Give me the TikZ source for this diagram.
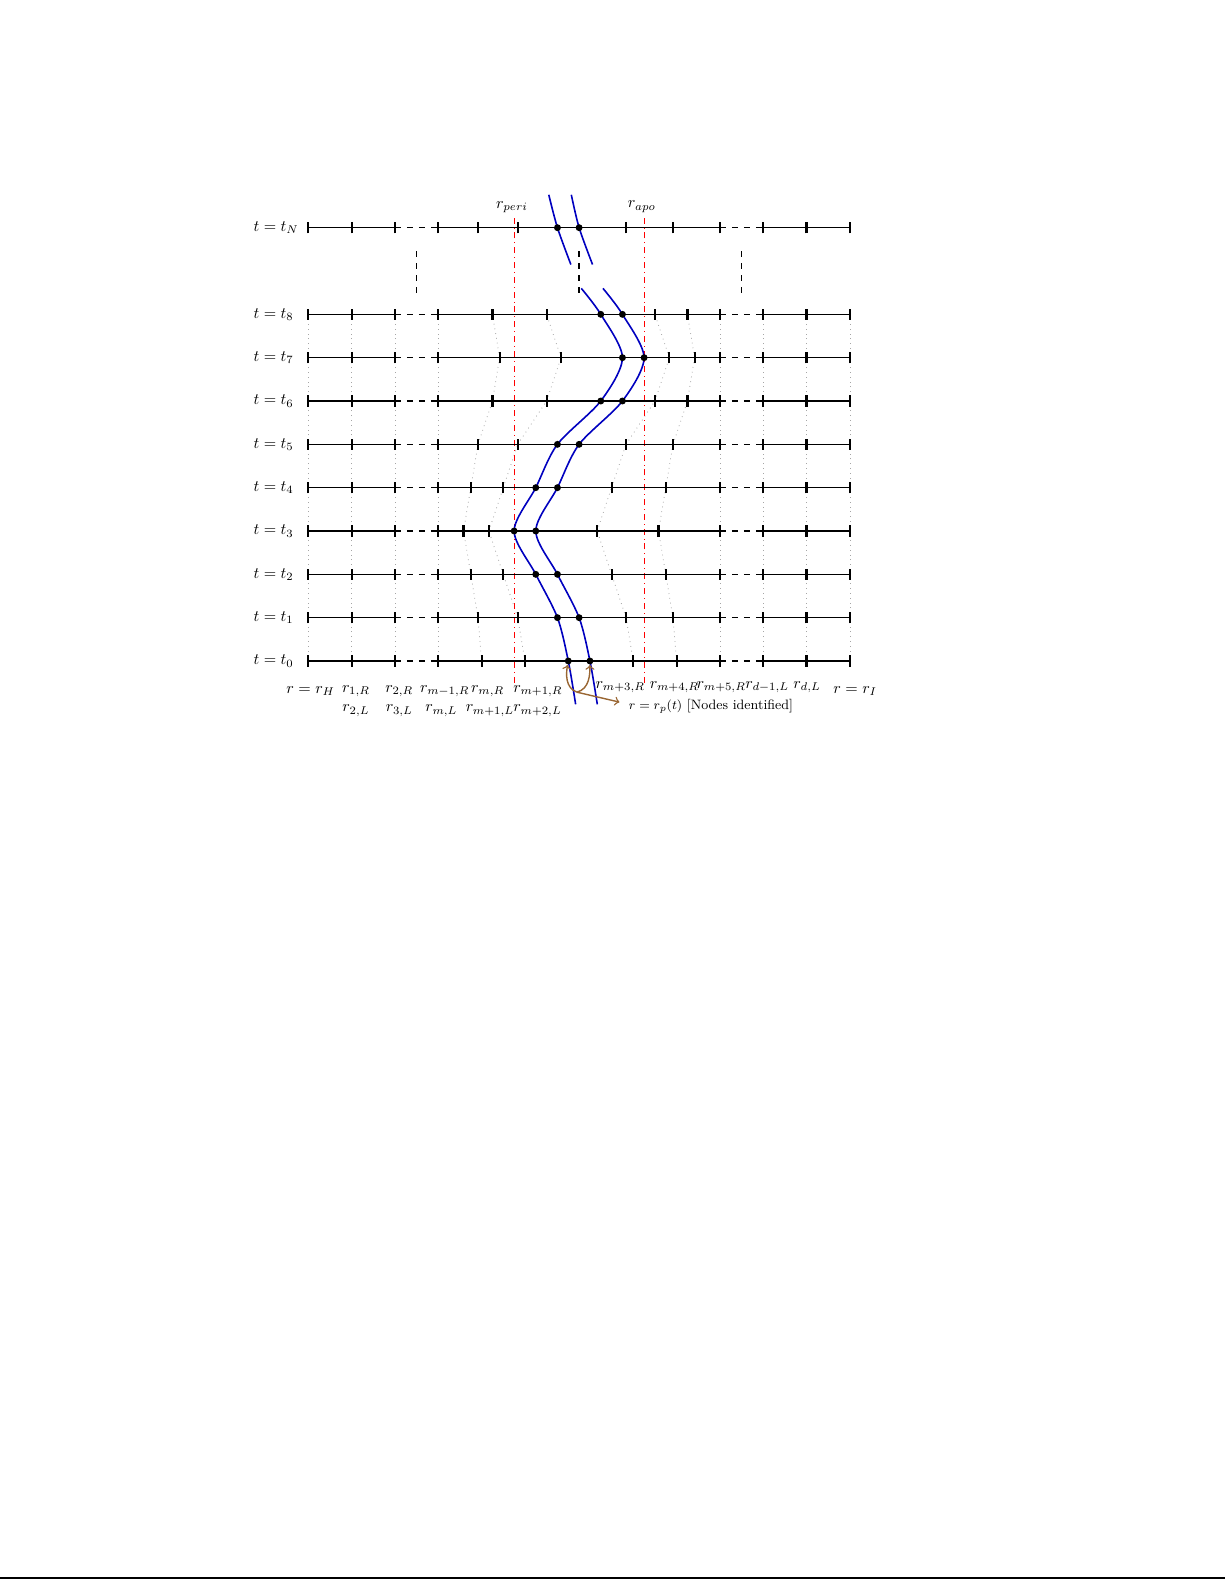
\documentclass[tikz,border=0pt]{standalone}
\usepackage{tikz}
\usetikzlibrary{calc}
\tikzset{
	gridline/.style={line width=0.7pt, color=black},
	gridtick/.style={line width=1.1pt, color=black},
	meshline/.style={line width=0.4pt, color=black!35, dotted},
	orbit/.style={line width=0.8pt, color=blue!75!black},
	radline/.style={line width=0.4pt, color=red, dash dot},
	pointer/.style={->, line width=0.7pt, color=brown!80!black, shorten >=2pt},
}

\begin{document}
\begin{tikzpicture}[x=0.761cm, y=0.761cm, every node/.style={scale=0.8}]
	%%%%% START %%%%%
	\useasboundingbox (-7.115,-21.325) rectangle (21.156,15.255);
	
	% moving mesh
	\foreach \x in {0,1,2,3,9.5,10.5,11.5,12.5}
		\draw[meshline] (\x,0) -- (\x,8);
	\foreach \ty/\rp [remember=\ty as \lastt (initially 0), remember=\rp as \lastp (initially 6)] in {1/5.75, 2/5.25, 3/4.75, 4/5.25, 5/5.75, 6/6.75, 7/7.25, 8/6.75}
		\foreach \k in {1,2} {
			\draw[meshline] ({3+\k*(\lastp-3)/3},\lastt) -- ({3+\k*(\rp-3)/3},\ty);
			\draw[meshline] ({\lastp+0.5+\k*(9-\lastp)/3},\lastt) -- ({\rp+0.5+\k*(9-\rp)/3},\ty);
		}
	
	\draw[radline] (4.75,-0.5) -- (4.75,10.25);
	\draw[radline] (7.75,-0.5) -- (7.75,10.25);
	\node (peri) at (4.7,10.47) {$r_{peri}$};
	\node (apo) at (7.7,10.49) {$r_{apo}$};
	
	% time slices
	\foreach \ty/\rp/\lab in {0/6/0, 1/5.75/1, 2/5.25/2, 3/4.75/3, 4/5.25/4, 5/5.75/5, 6/6.75/6, 7/7.25/7, 8/6.75/8, 10/5.75/N} {
		\pgfmathsetmacro\rq{\rp+0.5}
		\pgfmathsetmacro\ra{3+(\rp-3)/3}
		\pgfmathsetmacro\rb{3+2*(\rp-3)/3}
		\pgfmathsetmacro\rc{\rq+(9.5-\rq)/3}
		\pgfmathsetmacro\rd{\rq+2*(9.5-\rq)/3}
		\node[anchor=west, inner sep=0pt] (t\lab) at (-1.27,\ty) {$t = t_{\lab}$};
		\draw[gridline] (0,\ty) -- (2,\ty);
		\draw[gridline, dashed] (2,\ty) -- (3,\ty);
		\draw[gridline] (3,\ty) -- (9.5,\ty);
		\draw[gridline, dashed] (9.5,\ty) -- (10.5,\ty);
		\draw[gridline] (10.5,\ty) -- (12.5,\ty);
		\foreach \x in {0,1,2,3,\ra,\rb,\rc,\rd,9.5,10.5,11.5,12.5}
			\draw[gridtick] (\x,{\ty-0.13}) -- (\x,{\ty+0.13});
		\coordinate (L\lab) at (\rp,\ty);
		\coordinate (R\lab) at (\rq,\ty);
	}
	
	\foreach \x in {2.5,6.25,10}
		\draw[gridline, dashed] (\x,8.5) -- (\x,9.5);
	
	% particle
	\coordinate (Lbot) at (6.17,-1);
	\coordinate (Rbot) at (6.67,-1);
	\coordinate (Lend) at (6.3,8.6);
	\coordinate (Rend) at (6.8,8.6);
	\coordinate (Ltop) at (5.55,10.76);
	\coordinate (Rtop) at (6.07,10.76);
	\coordinate (Lcut) at (6.06,9.15);
	\coordinate (Rcut) at (6.56,9.15);
	\draw[orbit] plot[smooth] coordinates {(Lbot) (L0) (L1) (L2) (L3) (L4) (L5) (L6) (L7) (L8) (Lend)};
	\draw[orbit] plot[smooth] coordinates {(Rbot) (R0) (R1) (R2) (R3) (R4) (R5) (R6) (R7) (R8) (Rend)};
	\draw[orbit] plot[smooth] coordinates {(Ltop) (LN) (Lcut)};
	\draw[orbit] plot[smooth] coordinates {(Rtop) (RN) (Rcut)};
	\foreach \lab in {0,1,2,3,4,5,6,7,8,N} {
		\fill (L\lab) circle (0.08);
		\fill (R\lab) circle (0.08);
	}
	
	% grid labels
	\node (rH) at (0.05,-0.7) {$r = r_H$};
	\foreach \x/\txt [count=\i] in {1.1/{r_{1,R}}, 2.1/{r_{2,R}}, 3.15/{r_{m-1,R}}, 4.14/{r_{m,R}}, 5.3/{r_{m+1,R}}}
		\node (rR\i) at (\x,-0.7) {$\txt$};
	\foreach \x/\txt [count=\i] in {7.2/{r_{m+3,R}}, 8.45/{r_{m+4,R}}, 9.53/{r_{m+5,R}}, 10.59/{r_{d-1,L}}, 11.51/{r_{d,L}}}
		\node (rS\i) at (\x,-0.6) {$\txt$};
	\node (rI) at (12.62,-0.7) {$r = r_I$};
	\foreach \x/\txt [count=\i] in {1.1/{r_{2,L}}, 2.1/{r_{3,L}}, 3.07/{r_{m,L}}, 4.19/{r_{m+1,L}}, 5.29/{r_{m+2,L}}}
		\node (rL\i) at (\x,-1.15) {$\txt$};
	
	\coordinate (S) at (6.2,-0.72);
	\node[anchor=west, font=\fontsize{8.5}{10}\selectfont] (pname) at (7.27,-1.05) {$r = r_p(t)$ [Nodes identified]};
	\draw[pointer] (S) to[out=160, in=-100] (L0);
	\draw[pointer] (S) to[out=15, in=-90] (R0);
	\draw[pointer] (S) -- ($(pname.west)+(0,0.08)$);
	
	\draw[line width=0.8pt] (-7.115,-21.16) -- (21.156,-21.16);
	%%%%% END %%%%%
\end{tikzpicture}
\end{document}
